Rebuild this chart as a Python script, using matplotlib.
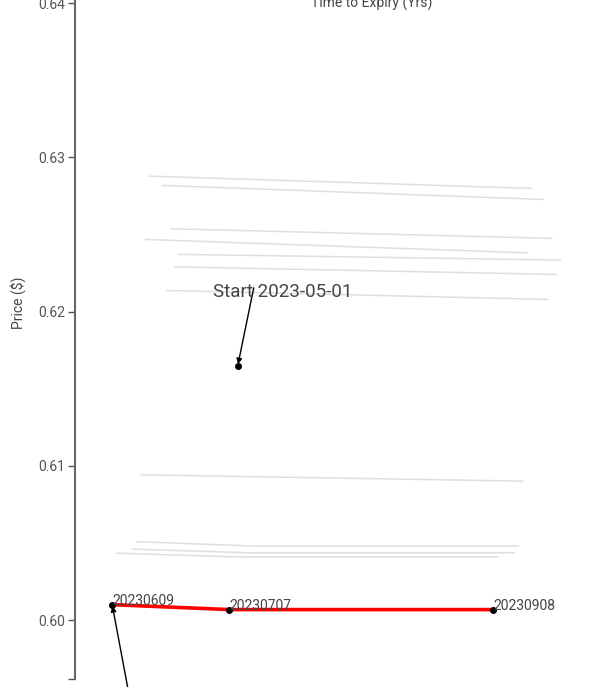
import pandas as pd
import matplotlib
matplotlib.use('Agg')
import matplotlib.pyplot as plt
from matplotlib.ticker import FixedLocator

# futures curve: contracts and expiries
contracts = ['20230609', '20230707', '20230908']
expiries = ['2023-06-09', '2023-07-07', '2023-09-08']

start_date = '2023-05-01'
start_price = 0.6165

end_date = '2023-05-31'
end_prices = [0.60100, 0.60068, 0.60068]

# older curves, one per trading day (prices per contract)
hist_dates = ['2023-05-15', '2023-05-16', '2023-05-17', '2023-05-18', '2023-05-19',
              '2023-05-22', '2023-05-23', '2023-05-24', '2023-05-25', '2023-05-26',
              '2023-05-30']
hist_front = [0.62371, 0.62290, 0.62537, 0.62137, 0.62818,
              0.62878, 0.62468, 0.60942, 0.60508, 0.60460, 0.60434]
hist_second = [0.62360, 0.62275, 0.62518, 0.62119, 0.62790,
               0.62854, 0.62441, 0.60929, 0.60480, 0.60436, 0.60410]
hist_third = [0.62334, 0.62241, 0.62475, 0.62079, 0.62727,
              0.62799, 0.62381, 0.60901, 0.60480, 0.60436, 0.60410]

yticks = [0.60, 0.61, 0.62, 0.63, 0.64]

plt.rcParams['font.family'] = ['Roboto', 'DejaVu Sans']

exp = pd.to_datetime(expiries)


def tte(day):
    # time to expiry in years for every contract
    return [(e - pd.Timestamp(day)).days / 365 for e in exp]


fig = plt.figure(figsize=(6.13, 6.87), dpi=100)
ax = fig.add_axes([74.5 / 613, 8 / 687, 595 / 613, 753 / 687])

for d, p1, p2, p3 in zip(hist_dates, hist_front, hist_second, hist_third):
    ax.plot(tte(d), [p1, p2, p3], color='#dedede', lw=1.1, zorder=1)

x_end = tte(end_date)
ax.plot(x_end, end_prices, color='#ff0000', lw=2.6, zorder=3)
ax.plot(x_end, end_prices, 'o', color='black', ms=4, zorder=4)
for x, y, c in zip(x_end, end_prices, contracts):
    ax.text(x, y, c, ha='left', va='baseline', fontsize=10, color='#444444', zorder=5)

x_start = tte(start_date)[0]
ax.plot([x_start], [start_price], 'o', color='black', ms=4, zorder=4)
ax.annotate('', xy=(x_start, start_price), xytext=(11.5, 56), textcoords='offset points',
            arrowprops=dict(arrowstyle='-|>', color='black', lw=1, mutation_scale=8,
                            shrinkA=0, shrinkB=1))
ax.annotate('Start ' + start_date, xy=(x_start, start_price), xytext=(-17.5, 53),
            textcoords='offset points', ha='left', va='center', fontsize=13.5,
            color='#444444')

# arrow for the end date, its label sits below the visible area
ax.annotate('', xy=(x_end[0], end_prices[0]), xytext=(12, -64), textcoords='offset points',
            arrowprops=dict(arrowstyle='-|>', color='black', lw=1, mutation_scale=8,
                            shrinkA=0, shrinkB=1), annotation_clip=False)

ylo = 0.59618
ax.set_xlim(0, 0.3894)
ax.set_ylim(ylo, 0.645)
ax.set_yticks(yticks)
ax.set_yticklabels(['%.2f' % v for v in yticks])
ax.yaxis.set_minor_locator(FixedLocator([ylo]))
ax.tick_params(axis='y', which='both', length=5, width=1, color='#555555',
               labelcolor='#555555', labelsize=10, pad=2)
ax.set_xticks([])
for s in ['top', 'right', 'bottom']:
    ax.spines[s].set_visible(False)
ax.spines['left'].set_color('#666666')
ax.spines['left'].set_linewidth(1.5)

ax.set_ylabel('Price ($)', fontsize=10, color='#444444')
ax.yaxis.set_label_coords((26 - 74.5) / 595, 0.5)

fig.text(372 / 613, 1 - 8 / 687, 'Time to Expiry (Yrs)', ha='center', va='baseline',
         fontsize=10, color='#444444')

fig.savefig('out.png', dpi=100)
